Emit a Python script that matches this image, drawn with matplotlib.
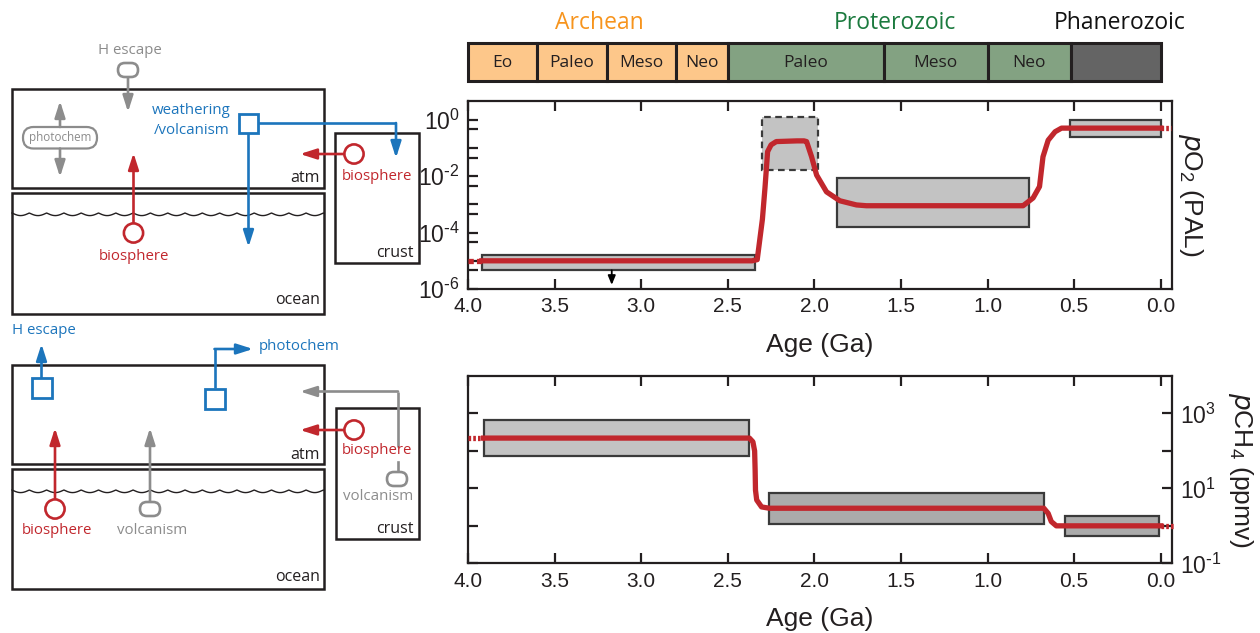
import numpy as np
import matplotlib.pyplot as plt
from matplotlib import patches

plt.rcParams['font.family'] = ['Liberation Sans', 'DejaVu Sans']
plt.rcParams['mathtext.default'] = 'regular'

RED = '#c1272d'
BLUE = '#1c75bc'
GRAY = '#8c8c8c'
INK = '#231f20'
SANS = ['Open Sans', 'DejaVu Sans']

# geologic time scale
eon_start = [4.0, 3.6, 3.2, 2.8, 2.5, 1.6, 1.0, 0.52]
eon_end = [3.6, 3.2, 2.8, 2.5, 1.6, 1.0, 0.52, 0.0]
eon_names = ['Eo', 'Paleo', 'Meso', 'Neo', 'Paleo', 'Meso', 'Neo', '']
eon_fill = ['#fdc78a'] * 4 + ['#83a282'] * 3 + ['#646464']
era_names = ['Archean', 'Proterozoic', 'Phanerozoic']
era_age = [3.24, 1.535, 0.237]
era_colors = ['#f7941d', '#1b7a3e', '#111111']

age_ticks = [4.0, 3.5, 3.0, 2.5, 2.0, 1.5, 1.0, 0.5, 0.0]
age_labels = ['4.0', '3.5', '3.0', '2.5', '2.0', '1.5', '1.0', '0.5', '0.0']

# pO2 constraints (PAL)
o2_box_old = [3.92, 2.30, 1.87, 0.525]
o2_box_young = [2.34, 1.98, 0.76, 0.0]
o2_box_low = [4.6e-6, 0.017, 1.6e-4, 0.25]
o2_box_high = [1.6e-5, 1.25, 8.5e-3, 1.0]
o2_box_dashed = [False, True, False, False]

# pO2 model curve
o2_age = [3.92, 2.36, 2.33, 2.30, 2.285, 2.27, 2.25, 2.22, 2.10, 2.06, 2.045,
          2.016, 1.987, 1.93, 1.853, 1.757, 1.70, 0.80, 0.795, 0.737, 0.70,
          0.68, 0.65, 0.61, 0.573, 0.0]
o2_val = [1e-5, 1e-5, 1.1e-5, 3e-4, 4e-3, 0.075, 0.13, 0.17, 0.18, 0.18, 0.17,
          0.049, 0.011, 0.0028, 0.00135, 0.00096, 0.0009, 0.0009, 0.0009,
          0.0017, 0.0043, 0.049, 0.19, 0.38, 0.51, 0.51]
o2_ext_old = [4.0, 3.92]
o2_ext_young = [0.0, -0.06]
o2_ext_val = [1e-5, 0.51]
o2_arrow_age = 3.17
o2_arrow_to = 1.4e-6

o2_ticks = [1e-6, 1e-5, 1e-4, 1e-3, 1e-2, 1e-1, 1e0]
o2_labels = ['$10^{\\text{-}6}$', '', '$10^{\\text{-}4}$', '', '$10^{\\text{-}2}$', '', '$10^{0}$']
o2_left_ticks = [10**-5.34, 10**-4.34, 10**-3.34, 10**-2.34, 10**-1.34, 10**-0.34]

# pCH4 constraints (ppmv)
ch4_box_old = [3.91, 2.26, 0.55]
ch4_box_young = [2.38, 0.675, 0.01]
ch4_box_low = [72, 1.1, 0.55]
ch4_box_high = [660, 7.6, 1.8]
ch4_box_fill = ['#c3c3c3', '#ababab', '#ababab']

ch4_age = [3.91, 2.375, 2.355, 2.345, 2.342, 2.34, 2.333, 2.305, 2.26, 0.675,
           0.65, 0.632, 0.603, 0.0]
ch4_val = [220, 220, 175, 100, 30, 9, 4.9, 3.2, 2.95, 2.95, 2.15, 1.3, 1.0, 1.0]
ch4_ext_old = [4.0, 3.91]
ch4_ext_young = [0.0, -0.075]
ch4_ext_val = [220, 1.0]

ch4_ticks = [1e-1, 1e0, 1e1, 1e2, 1e3]
ch4_labels = ['$10^{\\text{-}1}$', '', '$10^{1}$', '', '$10^{3}$']

XLIM = (4.0, -0.065)

fig = plt.figure(figsize=(12.6, 6.33), dpi=100)

# ---------- time scale bar ----------
axt = fig.add_axes([468 / 1260, 1 - 80.7 / 633, 704 / 1260, 37.4 / 633])
axt.set_xlim(*XLIM)
axt.set_ylim(0, 1)
axt.axis('off')
for s, e, name, c in zip(eon_start, eon_end, eon_names, eon_fill):
    axt.add_patch(patches.Rectangle((e, 0), s - e, 1, fc=c, ec=INK, lw=2.2, clip_on=False))
    axt.text((s + e) / 2, 0.48, name, ha='center', va='center', fontsize=12.5,
             color=INK, family=SANS)
for name, a, c in zip(era_names, era_age, era_colors):
    axt.text(a, 1.55, name, ha='center', va='center', fontsize=16.5, color=c, family=SANS)


def style_axis(ax, ticks, labels, ylabel):
    ax.set_xlim(*XLIM)
    ax.set_yscale('log')
    ax.set_xticks(age_ticks, labels=age_labels)
    ax.set_yticks(ticks, labels=labels)
    ax.minorticks_off()
    ax.yaxis.tick_right()
    ax.tick_params(axis='both', direction='in', length=7, width=1.6, color=INK,
                   labelcolor=INK)
    ax.tick_params(axis='x', top=True, labelsize=15, pad=6)
    ax.tick_params(axis='y', labelsize=16.5, pad=6)
    for sp in ax.spines.values():
        sp.set_linewidth(1.6)
        sp.set_color(INK)
    ax.set_xlabel('Age (Ga)', fontsize=19, color=INK, labelpad=12)
    ax.yaxis.set_label_position('right')
    ax.set_ylabel(ylabel, fontsize=19, color=INK, rotation=270, labelpad=24)


def draw_box(ax, old, young, low, high, fill, dashed=False):
    ax.add_patch(patches.Rectangle((young, low), old - young, high - low, fc=fill,
                                   ec='#3a3a3a', lw=1.6,
                                   ls=(0, (3, 2)) if dashed else '-', zorder=2))


# ---------- pO2 panel ----------
ax1 = fig.add_axes([468 / 1260, 1 - 289 / 633, 704 / 1260, 188 / 633])
ax1.set_ylim(1e-6, 10**0.67)
for o, y, lo, hi, d in zip(o2_box_old, o2_box_young, o2_box_low, o2_box_high, o2_box_dashed):
    draw_box(ax1, o, y, lo, hi, '#c3c3c3', d)
ax1.plot(o2_age, o2_val, color=RED, lw=3.8, zorder=3, solid_joinstyle='round')
ax1.plot(o2_ext_old, [o2_ext_val[0]] * 2, color=RED, lw=3.8, ls=(0, (1, 0.6)), zorder=3)
ax1.plot(o2_ext_young, [o2_ext_val[1]] * 2, color=RED, lw=3.8, ls=(0, (0.5, 0.4)),
         zorder=3, clip_on=False)
ax1.annotate('', xy=(o2_arrow_age, o2_arrow_to), xytext=(o2_arrow_age, o2_box_low[0]),
             arrowprops=dict(arrowstyle='-|>,head_length=0.6,head_width=0.25',
                             color='black', lw=1.3, mutation_scale=9, shrinkA=0, shrinkB=0))
style_axis(ax1, o2_ticks, o2_labels, '$\\mathit{p}$O$_2$ (PAL)')
ax1l = ax1.twinx()
ax1l.set_yscale('log')
ax1l.set_ylim(ax1.get_ylim())
ax1l.set_yticks(o2_left_ticks, labels=[''] * len(o2_left_ticks))
ax1l.minorticks_off()
ax1l.yaxis.tick_left()
ax1l.tick_params(axis='y', direction='in', length=7, width=1.6, color=INK)
for sp in ax1l.spines.values():
    sp.set_visible(False)

# ---------- pCH4 panel ----------
ax2 = fig.add_axes([468 / 1260, 1 - 563.3 / 633, 704 / 1260, 187.3 / 633])
ax2.set_ylim(1e-1, 1e4)
for o, y, lo, hi, f in zip(ch4_box_old, ch4_box_young, ch4_box_low, ch4_box_high, ch4_box_fill):
    draw_box(ax2, o, y, lo, hi, f)
ax2.plot(ch4_age, ch4_val, color=RED, lw=3.8, zorder=3, solid_joinstyle='round')
ax2.plot(ch4_ext_old, [ch4_ext_val[0]] * 2, color=RED, lw=3.8, ls=(0, (0.5, 0.4)), zorder=3)
ax2.plot(ch4_ext_young, [ch4_ext_val[1]] * 2, color=RED, lw=3.8, ls=(0, (0.5, 0.4)),
         zorder=3, clip_on=False)
style_axis(ax2, ch4_ticks, ch4_labels, '$\\mathit{p}$CH$_4$ (ppmv)')
ax2.tick_params(axis='y', left=True)

# ---------- reservoir schematics ----------
sk = fig.add_axes([0, 0, 430 / 1260, 1])
sk.set_xlim(0, 430)
sk.set_ylim(633, 0)
sk.axis('off')
AH = '-|>,head_length=0.75,head_width=0.24'


def box(x0, y0, x1, y1):
    sk.add_patch(patches.Rectangle((x0, y0), x1 - x0, y1 - y0, fill=False, ec=INK, lw=1.8))


def wave(y0, x0=12, x1=324, period=17.3):
    xs = np.linspace(x0, x1, 800)
    sk.plot(xs, y0 + 2.6 * np.abs(np.sin(np.pi * (xs - x0) / period)), color=INK, lw=1.0)


def arrow(pts, color):
    xs, ys = zip(*pts)
    if len(pts) > 2:
        sk.plot(xs[:-1], ys[:-1], color=color, lw=1.9, solid_capstyle='butt')
    sk.annotate('', xy=pts[-1], xytext=pts[-2],
                arrowprops=dict(arrowstyle=AH, color=color, lw=1.9, mutation_scale=13,
                                shrinkA=0, shrinkB=0))


def circle(x, y, color=RED):
    sk.add_patch(patches.Circle((x, y), 9.6, fc='white', ec=color, lw=1.9, zorder=3))


def square(x0, y0, size=20):
    sk.add_patch(patches.Rectangle((x0, y0), size, size, fc='white', ec=BLUE, lw=2.0, zorder=3))


def oval(x, y, w=20, h=14, r=6.9):
    sk.add_patch(patches.FancyBboxPatch((x - w / 2, y - h / 2), w, h,
                                        boxstyle=f'round,pad=0,rounding_size={r}',
                                        fc='white', ec=GRAY, lw=1.9, zorder=3))


def label(x, y, s, color, size=10.8, ha='center'):
    sk.text(x, y, s, color=color, fontsize=size, ha=ha, va='center', family=SANS)


# panel a: O2
box(12, 89, 324, 188)
box(12, 193, 324, 314)
box(335, 133, 419, 263)
wave(213)
label(320, 178, 'atm', INK, 11.5, 'right')
label(320, 300, 'ocean', INK, 11.5, 'right')
label(414, 253, 'crust', INK, 11.5, 'right')
label(130, 50, 'H escape', GRAY)
arrow([(128, 77), (128, 112)], GRAY)
oval(128, 70)
sk.add_patch(patches.FancyBboxPatch((23, 127), 74, 21.5, boxstyle='round,pad=0,rounding_size=10.5',
                                    fc='white', ec=GRAY, lw=1.6, zorder=3))
label(60, 137.5, 'photochem', GRAY, 8.4)
arrow([(60, 127), (60, 101)], GRAY)
arrow([(60, 148.5), (60, 177)], GRAY)
arrow([(133.5, 223.5), (133.5, 153)], RED)
circle(133.5, 233)
label(134, 256, 'biosphere', RED)
label(231, 110, 'weathering', BLUE, 10.8, 'right')
label(230, 130, '/volcanism', BLUE, 10.8, 'right')
arrow([(258, 123), (396, 123), (396, 158)], BLUE)
arrow([(248.5, 132), (248.5, 247)], BLUE)
square(239, 113.5, 19)
arrow([(344.5, 154), (300, 154)], RED)
circle(354, 154)
label(377, 176, 'biosphere', RED)

# panel b: CH4
label(12, 331, 'H escape', BLUE, 10.8, 'left')
arrow([(41.5, 378), (41.5, 344)], BLUE)
square(31.5, 378, 20)
arrow([(214.5, 388), (214.5, 349), (253, 349)], BLUE)
square(204.5, 388.5, 20)
label(259, 346, 'photochem', BLUE, 10.8, 'left')
box(12, 365, 324, 464)
box(12, 469, 324, 589)
box(336, 408, 419, 539)
wave(490)
label(320, 455, 'atm', INK, 11.5, 'right')
label(320, 577, 'ocean', INK, 11.5, 'right')
label(414, 529, 'crust', INK, 11.5, 'right')
arrow([(55, 499.5), (55, 428)], RED)
circle(55, 509)
label(57, 531, 'biosphere', RED)
arrow([(150, 502), (150, 428)], GRAY)
oval(150, 509)
label(152, 531, 'volcanism', GRAY)
arrow([(344.5, 430), (300, 430)], RED)
circle(354, 430)
label(377, 451, 'biosphere', RED)
sk.plot([398, 398], [472, 461.5], color=GRAY, lw=1.9)
arrow([(398, 446.5), (398, 391.5), (300, 391.5)], GRAY)
oval(397, 479)
label(378, 496, 'volcanism', GRAY)

fig.savefig('out.png', dpi=100)
